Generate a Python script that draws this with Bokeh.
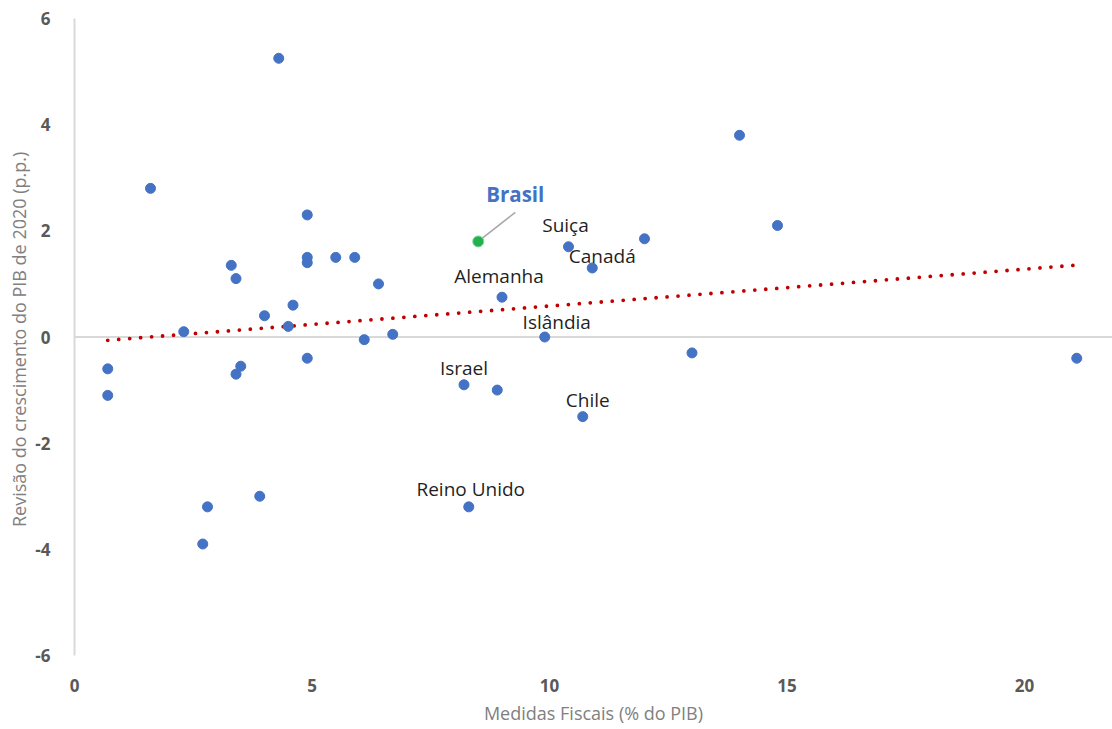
import numpy as np
from bokeh.plotting import figure
from bokeh.models import ColumnDataSource, Span, FixedTicker, Range1d, PrintfTickFormatter
from bokeh.embed import file_html
from bokeh.resources import INLINE
from bokeh.core.properties import value

# ---- data ----
medidas_fiscais = [0.7, 0.7, 1.6, 2.3, 2.7, 2.8, 3.3, 3.4, 3.4, 3.5, 3.9, 4.0, 4.3,
                   4.5, 4.6, 4.9, 4.9, 4.9, 4.9, 5.5, 5.9, 6.1, 6.4, 6.7, 8.2, 8.3,
                   8.5, 8.9, 9.0, 9.9, 10.4, 10.7, 10.9, 12.0, 13.0, 14.0, 14.8, 21.1]
revisao_pib = [-0.6, -1.1, 2.8, 0.1, -3.9, -3.2, 1.35, 1.1, -0.7, -0.55, -3.0, 0.4, 5.25,
               0.2, 0.6, 2.3, 1.5, 1.4, -0.4, 1.5, 1.5, -0.05, 1.0, 0.05, -0.9, -3.2,
               1.8, -1.0, 0.75, 0.0, 1.7, -1.5, 1.3, 1.85, -0.3, 3.8, 2.1, -0.4]
paises = ["", "", "", "", "", "", "", "", "", "", "", "", "",
          "", "", "", "", "", "", "", "", "", "", "", "Israel", "Reino Unido",
          "Brasil", "", "Alemanha", "Islândia", "Suiça", "Chile", "Canadá", "", "", "", "", ""]
destaque = "Brasil"
x_ticks = [0, 5, 10, 15, 20]
y_ticks = [-6, -4, -2, 0, 2, 4, 6]

# ---- label placement (screen pixel offsets from each point) ----
label_offsets = {
    "Israel": (0, -17), "Reino Unido": (2, -18), "Alemanha": (-3, -21),
    "Islândia": (12, -15), "Suiça": (-3, -22), "Chile": (5, -17),
    "Canadá": (10, -12), "Brasil": (37, -47),
}

FONT = "Open Sans"
W, H = 1112, 729
BL, BT, BB = 74, 18, 74
FRAME_W, FRAME_H = W - BL, H - BT - BB
X_MAX = FRAME_W / 47.5

p = figure(width=W, height=H, output_backend="svg", toolbar_location=None,
           x_range=Range1d(0, X_MAX), y_range=Range1d(-6, 6),
           min_border_left=BL, min_border_right=0, min_border_top=BT, min_border_bottom=BB)
p.outline_line_color = None
p.xgrid.visible = False
p.ygrid.visible = False
p.background_fill_color = "white"

# axes
p.xaxis.ticker = FixedTicker(ticks=x_ticks)
p.yaxis.ticker = FixedTicker(ticks=y_ticks)
for ax in (p.xaxis[0], p.yaxis[0]):
    ax.formatter = PrintfTickFormatter(format="%d")
    ax.major_tick_line_color = None
    ax.minor_tick_line_color = None
    ax.major_label_text_font = FONT
    ax.major_label_text_font_style = "bold"
    ax.major_label_text_font_size = "17px"
    ax.major_label_text_color = "#595959"
    ax.axis_label_text_font = FONT
    ax.axis_label_text_font_style = "normal"
    ax.axis_label_text_font_size = "18px"
    ax.axis_label_text_color = "#808080"
p.xaxis.axis_line_color = None
p.xaxis.major_label_standoff = 17
p.xaxis.axis_label_standoff = 6
p.xaxis.axis_label = "Medidas Fiscais (% do PIB)"
p.yaxis.axis_line_color = "#D9D9D9"
p.yaxis.axis_line_width = 2
p.yaxis.major_label_standoff = 18
p.yaxis.axis_label_standoff = 1
p.yaxis.axis_label = "Revisão do crescimento do PIB de 2020  (p.p.)"

# horizontal axis line at zero
p.add_layout(Span(location=0, dimension="width", line_color="#D9D9D9",
                  line_width=2, level="underlay"))

# trend line (OLS over all points)
xs = np.array(medidas_fiscais)
ys = np.array(revisao_pib)
slope, intercept = np.polyfit(xs, ys, 1)
tx = np.array([xs.min(), xs.max()])
p.line(tx, intercept + slope * tx, line_color="#C00000", line_width=3.8,
       line_dash="0 11", line_cap="round")

# points
is_hl = [n == destaque for n in paises]
src_pts = ColumnDataSource(dict(x=[x for x, h in zip(medidas_fiscais, is_hl) if not h],
                                y=[y for y, h in zip(revisao_pib, is_hl) if not h]))
p.scatter("x", "y", source=src_pts, size=10, fill_color="#4472C4", line_color="#4472C4")

# leader line for highlighted point
sx = X_MAX / FRAME_W
sy = 12 / FRAME_H
hx = [x for x, h in zip(medidas_fiscais, is_hl) if h]
hy = [y for y, h in zip(revisao_pib, is_hl) if h]
p.segment(x0=hx, y0=hy, x1=[v + 37 * sx for v in hx], y1=[v + 29 * sy for v in hy],
          line_color="#A6A6A6", line_width=1.5)
p.scatter(hx, hy, size=11, fill_color="#22B14C", line_color="#7FD39A", line_width=1)

# labels
lab = [(x, y, n) for x, y, n in zip(medidas_fiscais, revisao_pib, paises) if n and n != destaque]
src_lab = ColumnDataSource(dict(x=[a[0] for a in lab], y=[a[1] for a in lab],
                                t=[a[2] for a in lab],
                                dx=[label_offsets[a[2]][0] for a in lab],
                                dy=[label_offsets[a[2]][1] for a in lab]))
p.text("x", "y", text="t", source=src_lab, x_offset="dx", y_offset="dy",
       text_align="center", text_baseline="middle", text_font=value(FONT),
       text_font_size="19px", text_color="#1F1F1F")

src_hl = ColumnDataSource(dict(x=hx, y=hy, t=[destaque],
                               dx=[label_offsets[destaque][0]], dy=[label_offsets[destaque][1]]))
p.text("x", "y", text="t", source=src_hl, x_offset="dx", y_offset="dy",
       text_align="center", text_baseline="middle", text_font=value(FONT),
       text_font_size="20.5px", text_font_style="bold", text_color="#4472C4")

open("out.html", "w").write(file_html(p, INLINE))
